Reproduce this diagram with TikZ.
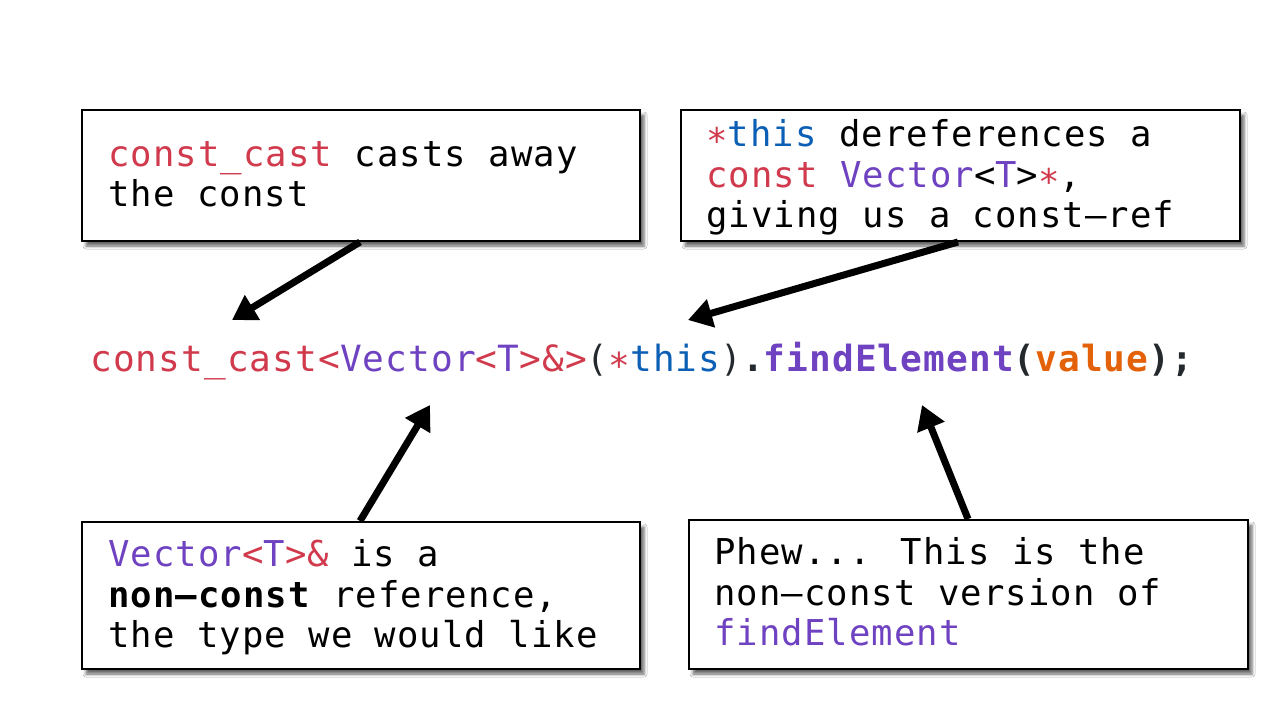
\documentclass[tikz,border=0pt]{standalone}
\usepackage{fontspec}
\usetikzlibrary{arrows.meta,shadows.blur,calc}
\newfontfamily\boxfont{DejaVu Sans Mono}[LetterSpace=3]
\definecolor{kw}{HTML}{D03A4C}
\definecolor{ty}{HTML}{6F42C1}
\definecolor{ptr}{HTML}{0B5FB5}
\definecolor{val}{HTML}{E36209}
\definecolor{dk}{HTML}{24292E}
\begin{document}
\begin{tikzpicture}[x=1pt,y=-1pt,
  note/.style={draw=black,line width=2pt,fill=white,anchor=north west,inner sep=0pt,
    blur shadow={shadow xshift=4pt,shadow yshift=-5pt,shadow blur radius=3pt,shadow opacity=60}},
  txt/.style={anchor=base west,inner sep=0pt,font=\boxfont\fontsize{35.6}{40.7}\selectfont},
  codeline/.style={anchor=base west,inner sep=0pt,font=\boxfont\fontsize{36.1}{40.7}\selectfont},
  pointer/.style={line width=7pt,-{Triangle[length=24pt,width=28pt]}}]
\useasboundingbox[fill=white] (0,0) rectangle (1280,720);

% callout boxes
\node[note,minimum width=558pt,minimum height=131pt] (b1) at (81,109) {};
\node[note,minimum width=559pt,minimum height=131pt] (b2) at (680,109) {};
\node[note,minimum width=558pt,minimum height=147pt] (b3) at (81,521) {};
\node[note,minimum width=559pt,minimum height=149pt] (b4) at (688,519) {};

% the expression being explained
\node[codeline] (expr) at (90,371) {\textcolor{kw}{const\_cast<}\textcolor{ty}{Vector}\textcolor{kw}{<}\textcolor{ty}{T}\textcolor{kw}{>\&>}\textcolor{dk}{(}\textcolor{kw}{∗}\textcolor{ptr}{this}\textcolor{dk}{)}\textbf{\textcolor{dk}{.}\textcolor{ty}{findElement}\textcolor{dk}{(}\textcolor{val}{value}\textcolor{dk}{);}}};

% box texts
\node[txt] (l11) at (108,166) {\textcolor{kw}{const\_cast} casts away};
\node[txt] (l12) at (108,206.5) {the const};

\node[txt] (l21) at (706,146) {\textcolor{kw}{∗}\textcolor{ptr}{this} dereferences a};
\node[txt] (l22) at (706,187) {\textcolor{kw}{const} \textcolor{ty}{Vector}<\textcolor{ty}{T}>\textcolor{kw}{∗},};
\node[txt] (l23) at (706,227) {giving us a const–ref};

\node[txt] (l31) at (108,566) {\textcolor{ty}{Vector}\textcolor{kw}{<}\textcolor{ty}{T}\textcolor{kw}{>\&} is a};
\node[txt] (l32) at (108,607) {\textbf{non–const} reference,};
\node[txt] (l33) at (108,647) {the type we would like};

\node[txt] (l41) at (714,564) {Phew... This is the};
\node[txt] (l42) at (714,605) {non–const version of};
\node[txt] (l43) at (714,645) {\textcolor{ty}{findElement}};

% arrow tips
\coordinate (tip1) at (232,320);
\coordinate (tip2) at (688,320);
\coordinate (tip3) at (430,405);
\coordinate (tip4) at (922,405);

\draw[pointer] ($(b1.south west)+(279,0)$) -- (tip1);
\draw[pointer] ($(b2.south west)+(278,0)$) -- (tip2);
\draw[pointer] ($(b3.north west)+(279,0)$) -- (tip3);
\draw[pointer] ($(b4.north west)+(280,0)$) -- (tip4);
\end{tikzpicture}
\end{document}
